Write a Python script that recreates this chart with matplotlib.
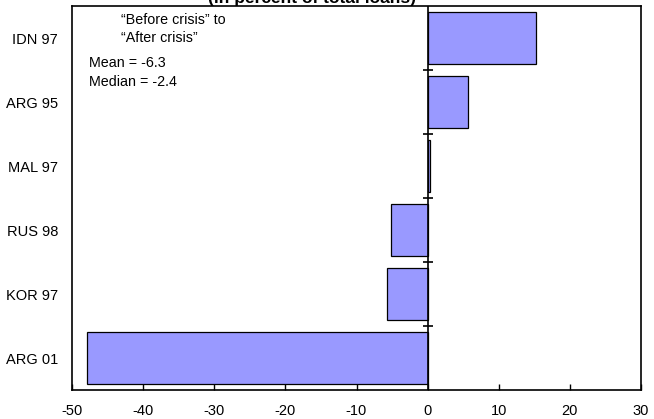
import matplotlib
matplotlib.use("Agg")
import matplotlib.pyplot as plt
import numpy as np

plt.rcParams['font.family'] = ['Liberation Sans', 'DejaVu Sans']

categories = ["IDN 97", "ARG 95", "MAL 97", "RUS 98", "KOR 97", "ARG 01"]
values = [15.2, 5.7, 0.4, -5.2, -5.7, -47.9]
xticks = [-50, -40, -30, -20, -10, 0, 10, 20, 30]

W, H = 654, 419
fig = plt.figure(figsize=(W/100, H/100), dpi=100)
ax = fig.add_axes([72/W, 1-390/H, (641-72)/W, (390-6)/H])

y = np.arange(len(categories))
ax.barh(y, values, height=0.82, color="#9999FF", edgecolor="black", linewidth=0.9, zorder=2)

ax.set_xlim(-50, 30)
ax.set_ylim(len(categories) - 0.5, -0.5)
ax.set_xticks(xticks)
ax.set_xticklabels([str(t) for t in xticks])
ax.set_yticks(y)
ax.set_yticklabels(categories)

ax.tick_params(axis='x', direction='in', length=4, width=1, pad=10, labelsize=10.5)
ax.tick_params(axis='y', length=0, pad=10, labelsize=10.5)

for s in ax.spines.values():
    s.set_linewidth(1.2)
    s.set_color("black")

# zero line with cross ticks at category boundaries
ax.axvline(0, color="black", linewidth=1.2, zorder=3)
bounds = np.arange(0.5, len(categories) - 0.5, 1.0)
ax.plot(np.zeros_like(bounds), bounds, linestyle="none", marker="_", markersize=7,
        markeredgewidth=1.2, color="black", zorder=4)

def figtxt(px, py, s, **kw):
    fig.text(px / W, 1 - py / H, s, **kw)

figtxt(121, 20, "\u201cBefore crisis\u201d to", fontsize=10.3, va='center', ha='left')
figtxt(121, 38, "\u201cAfter crisis\u201d", fontsize=10.3, va='center', ha='left')
figtxt(89, 63, "Mean = -6.3", fontsize=10.3, va='center', ha='left')
figtxt(89, 82, "Median = -2.4", fontsize=10.3, va='center', ha='left')

figtxt(312, 3, "(in percent of total loans)", ha='center', va='baseline',
       fontsize=12.5, fontweight='bold')

fig.savefig("out.png", dpi=100)
